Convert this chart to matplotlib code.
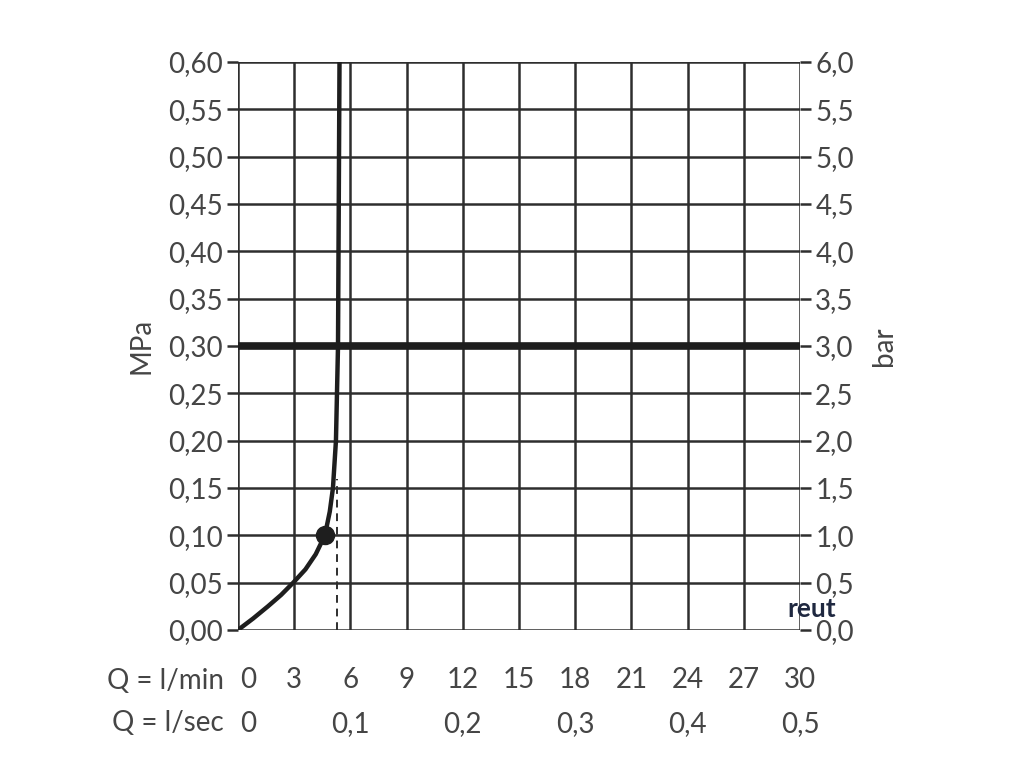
import numpy as np
import matplotlib.pyplot as plt
from matplotlib.transforms import ScaledTranslation

plt.rcParams['font.family'] = ['Lato', 'DejaVu Sans']

# datos de la curva (l/min, MPa)
caudal = [0, 0.8, 1.6, 2.3, 2.95, 3.6, 4.15, 4.64, 4.9, 5.07, 5.23, 5.34, 5.38, 5.42]
presion = [0, 0.012, 0.025, 0.037, 0.05, 0.064, 0.08, 0.10, 0.125, 0.15, 0.20, 0.30, 0.45, 0.60]
punto_q = 4.64
punto_p = 0.10
linea_q = 5.27
linea_p = 0.16
presion_limite = 0.30

ticks_lmin = [0, 3, 6, 9, 12, 15, 18, 21, 24, 27, 30]
ticks_lsec = [0, 0.1, 0.2, 0.3, 0.4, 0.5]
ticks_mpa = np.arange(0, 0.601, 0.05)
ticks_bar = np.arange(0, 6.01, 0.5)

gris = '#2e2e2e'
texto = '#454545'
fs = 20

fig = plt.figure(figsize=(10.24, 7.68), dpi=100)
ax = fig.add_axes([0.2324, 0.1797, 0.5488, 0.7396])

ax.set_xlim(0, 30)
ax.set_ylim(0, 0.60)

# rejilla
for q in ticks_lmin:
    ax.plot([q, q], [0, 0.60], color=gris, lw=1.8, zorder=1)
for p in ticks_mpa:
    ax.plot([0, 30], [p, p], color=gris, lw=1.8, zorder=1)

ax.axhline(presion_limite, color='#1e1e1e', lw=5.5, zorder=3)
ax.plot([linea_q, linea_q], [0, linea_p], color=gris, lw=1.4, ls=(0, (4, 3)), zorder=2)
ax.plot(caudal, presion, color='#1e1e1e', lw=3.2, zorder=4, solid_capstyle='round')
ax.plot([punto_q], [punto_p], 'o', color='#1e1e1e', ms=13, zorder=5)

for s in ax.spines.values():
    s.set_visible(False)

ax.set_yticks(ticks_mpa)
ax.set_yticklabels([f"{v:.2f}".replace('.', ',') for v in ticks_mpa])
ax.tick_params(axis='y', length=8, width=1.8, color=gris, labelsize=fs,
               labelcolor=texto, pad=3)
ax.set_ylabel('MPa', fontsize=fs, color=texto, labelpad=10)

ax.set_xticks(ticks_lmin)
ax.set_xticklabels([str(v) for v in ticks_lmin])
ax.tick_params(axis='x', length=0, labelsize=fs, labelcolor=texto, pad=27)

ax2 = ax.twinx()
ax2.set_ylim(0, 6.0)
ax2.set_yticks(ticks_bar)
ax2.set_yticklabels([f"{v:.1f}".replace('.', ',') for v in ticks_bar])
ax2.tick_params(axis='y', length=8, width=1.8, color=gris, labelsize=fs,
                labelcolor=texto, pad=3)
ax2.set_ylabel('bar', fontsize=fs, color=texto, labelpad=12)
for s in ax2.spines.values():
    s.set_visible(False)

sec = ax.secondary_xaxis(-0.142, functions=(lambda x: x / 60, lambda x: x * 60))
sec.set_xticks(ticks_lsec)
sec.set_xticklabels(['0'] + [f"{v:.1f}".replace('.', ',') for v in ticks_lsec[1:]])
sec.tick_params(axis='x', length=0, labelsize=fs, labelcolor=texto, pad=0)
sec.spines['bottom'].set_visible(False)

# el "0" va un poco a la derecha del eje
desp = ScaledTranslation(7 / 72, 0, fig.dpi_scale_trans)
for lab in [ax.get_xticklabels()[0], sec.get_xticklabels()[0]]:
    lab.set_transform(lab.get_transform() + desp)

ax.text(-0.025, -0.09, 'Q = l/min', transform=ax.transAxes, ha='right', va='center',
        fontsize=fs, color=texto)
ax.text(-0.025, -0.163, 'Q = l/sec', transform=ax.transAxes, ha='right', va='center',
        fontsize=fs, color=texto)

fig.text(0.769, 0.196, 'reut', fontsize=19, fontweight='bold', color='#1f2840')

fig.savefig('out.png', dpi=100, facecolor='white')
